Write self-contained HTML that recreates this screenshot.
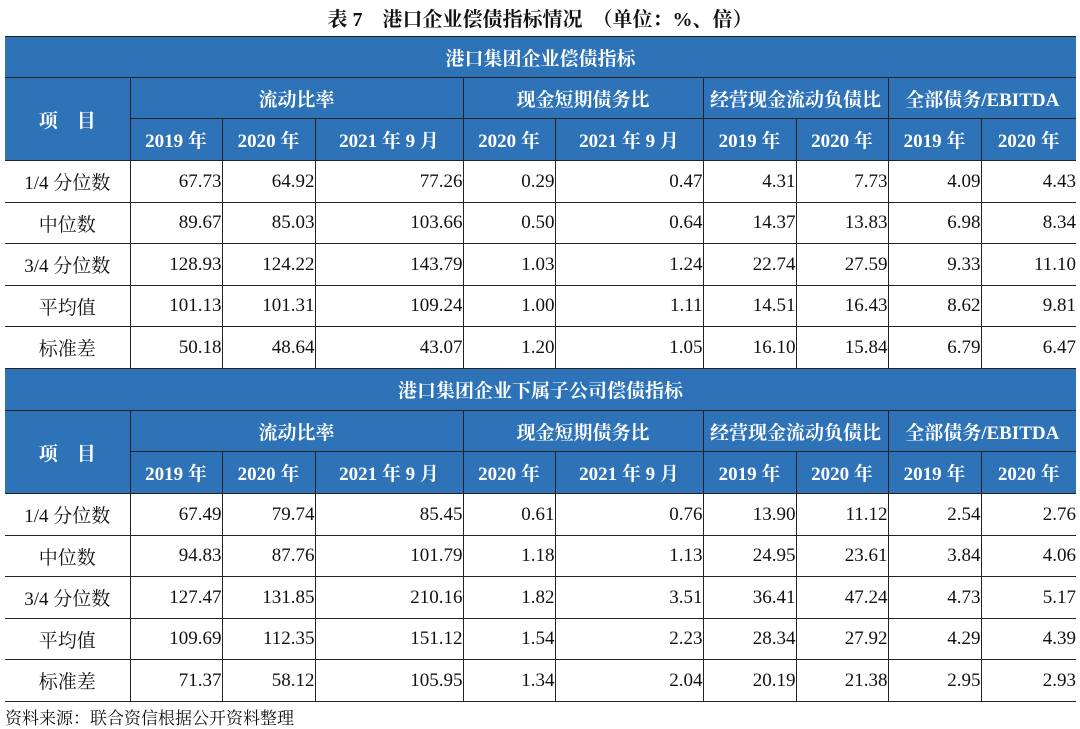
<!DOCTYPE html>
<html><head><meta charset="utf-8"><style>
body{margin:0;width:1080px;height:729px;background:#fff;overflow:hidden;position:relative;font-family:"Liberation Serif","Noto Serif CJK SC",serif;}
.title{position:absolute;top:3px;left:0;width:1080px;text-align:center;font-weight:bold;font-size:20px;color:#111;}
table{position:absolute;left:5px;top:36px;border-collapse:collapse;table-layout:fixed;width:1071px;}
td{border:1px solid #222;padding:0;font-size:19px;color:#111;white-space:nowrap;}
tr td:first-child{border-left:none}
tr td:last-child{border-right:none}
.b td,td.b{background:#2e73b8;color:#fff;font-weight:bold;text-align:center;}
td.n{text-align:right;}
td.l{text-align:center;}
.h41{height:41px}.h42{height:42px}
.foot{position:absolute;left:5px;top:704px;font-size:17px;color:#111;font-family:"Liberation Serif","Noto Serif CJK SC",serif;}
</style></head><body>
<div class="title">表 7　港口企业偿债指标情况　（单位：%、倍）</div>
<table>
<colgroup><col style="width:125px"><col style="width:92px"><col style="width:93px"><col style="width:148px"><col style="width:92px"><col style="width:148px"><col style="width:93px"><col style="width:92px"><col style="width:93px"><col style="width:95px"></colgroup>
<tr class="b h41"><td colspan="10">港口集团企业偿债指标</td></tr>
<tr class="b h41"><td rowspan="2">项　目</td><td colspan="3">流动比率</td><td colspan="2">现金短期债务比</td><td colspan="2">经营现金流动负债比</td><td colspan="2">全部债务/EBITDA</td></tr>
<tr class="b h42"><td>2019 年</td><td>2020 年</td><td>2021 年 9 月</td><td>2020 年</td><td>2021 年 9 月</td><td>2019 年</td><td>2020 年</td><td>2019 年</td><td>2020 年</td></tr>
<tr class="h42"><td class="l">1/4 分位数</td><td class="n">67.73</td><td class="n">64.92</td><td class="n">77.26</td><td class="n">0.29</td><td class="n">0.47</td><td class="n">4.31</td><td class="n">7.73</td><td class="n">4.09</td><td class="n">4.43</td></tr>
<tr class="h41"><td class="l">中位数</td><td class="n">89.67</td><td class="n">85.03</td><td class="n">103.66</td><td class="n">0.50</td><td class="n">0.64</td><td class="n">14.37</td><td class="n">13.83</td><td class="n">6.98</td><td class="n">8.34</td></tr>
<tr class="h42"><td class="l">3/4 分位数</td><td class="n">128.93</td><td class="n">124.22</td><td class="n">143.79</td><td class="n">1.03</td><td class="n">1.24</td><td class="n">22.74</td><td class="n">27.59</td><td class="n">9.33</td><td class="n">11.10</td></tr>
<tr class="h41"><td class="l">平均值</td><td class="n">101.13</td><td class="n">101.31</td><td class="n">109.24</td><td class="n">1.00</td><td class="n">1.11</td><td class="n">14.51</td><td class="n">16.43</td><td class="n">8.62</td><td class="n">9.81</td></tr>
<tr class="h42"><td class="l">标准差</td><td class="n">50.18</td><td class="n">48.64</td><td class="n">43.07</td><td class="n">1.20</td><td class="n">1.05</td><td class="n">16.10</td><td class="n">15.84</td><td class="n">6.79</td><td class="n">6.47</td></tr>
<tr class="b h42"><td colspan="10">港口集团企业下属子公司偿债指标</td></tr>
<tr class="b h41"><td rowspan="2">项　目</td><td colspan="3">流动比率</td><td colspan="2">现金短期债务比</td><td colspan="2">经营现金流动负债比</td><td colspan="2">全部债务/EBITDA</td></tr>
<tr class="b h42"><td>2019 年</td><td>2020 年</td><td>2021 年 9 月</td><td>2020 年</td><td>2021 年 9 月</td><td>2019 年</td><td>2020 年</td><td>2019 年</td><td>2020 年</td></tr>
<tr class="h42"><td class="l">1/4 分位数</td><td class="n">67.49</td><td class="n">79.74</td><td class="n">85.45</td><td class="n">0.61</td><td class="n">0.76</td><td class="n">13.90</td><td class="n">11.12</td><td class="n">2.54</td><td class="n">2.76</td></tr>
<tr class="h41"><td class="l">中位数</td><td class="n">94.83</td><td class="n">87.76</td><td class="n">101.79</td><td class="n">1.18</td><td class="n">1.13</td><td class="n">24.95</td><td class="n">23.61</td><td class="n">3.84</td><td class="n">4.06</td></tr>
<tr class="h42"><td class="l">3/4 分位数</td><td class="n">127.47</td><td class="n">131.85</td><td class="n">210.16</td><td class="n">1.82</td><td class="n">3.51</td><td class="n">36.41</td><td class="n">47.24</td><td class="n">4.73</td><td class="n">5.17</td></tr>
<tr class="h41"><td class="l">平均值</td><td class="n">109.69</td><td class="n">112.35</td><td class="n">151.12</td><td class="n">1.54</td><td class="n">2.23</td><td class="n">28.34</td><td class="n">27.92</td><td class="n">4.29</td><td class="n">4.39</td></tr>
<tr class="h42"><td class="l">标准差</td><td class="n">71.37</td><td class="n">58.12</td><td class="n">105.95</td><td class="n">1.34</td><td class="n">2.04</td><td class="n">20.19</td><td class="n">21.38</td><td class="n">2.95</td><td class="n">2.93</td></tr>
</table>
<div class="foot">资料来源：联合资信根据公开资料整理</div>
</body></html>
